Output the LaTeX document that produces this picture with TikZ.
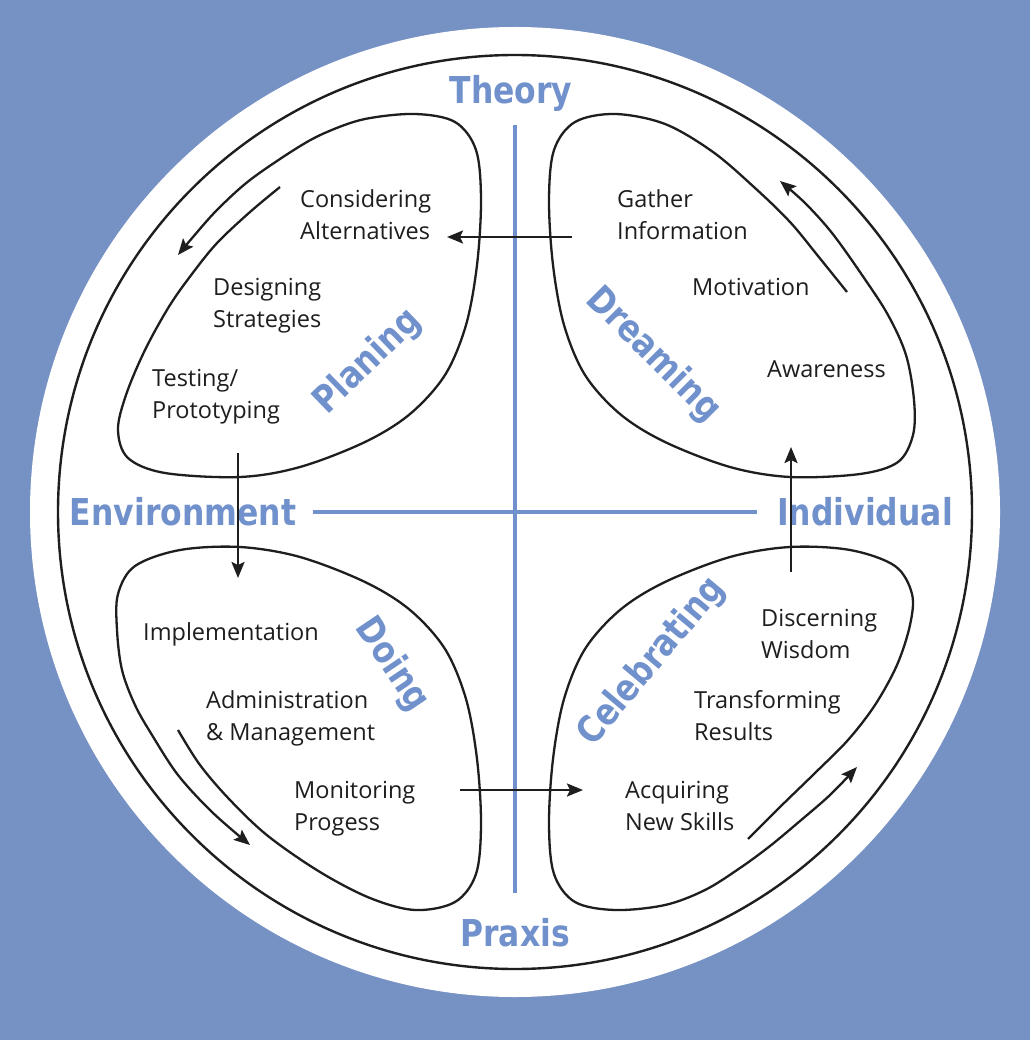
\documentclass[tikz,border=0pt]{standalone}
\usepackage{fontspec}
\setmainfont{Open Sans}
\newfontfamily\lblfont[FakeStretch=0.85]{DejaVu Sans}
\usetikzlibrary{arrows.meta}
\definecolor{bgblue}{RGB}{118,145,196}
\definecolor{lblblue}{RGB}{113,145,204}
\definecolor{ink}{RGB}{30,30,30}
\begin{document}
\begin{tikzpicture}[x=1pt,y=-1pt,
  lobe/.style={draw=ink, line width=2.3pt, -{Stealth[length=16pt,width=13pt,inset=3pt]}},
  conn/.style={draw=ink, line width=2.2pt, -{Stealth[length=16pt,width=13pt,inset=3pt]}},
  axisline/.style={draw=lblblue, line width=4pt},
  txt/.style={font=\fontsize{23.5}{32}\selectfont, align=left, anchor=base west, inner sep=0pt, text=ink},
  big/.style={font=\lblfont\bfseries\fontsize{37}{40}\selectfont, text=lblblue, inner sep=0pt},
]
\useasboundingbox (0,0) rectangle (1030,1040);
\fill[bgblue] (0,0) rectangle (1030,1040);
\fill[white] (515,512) circle[radius=485];
\draw[line width=2.4pt, draw=ink] (515,512) circle[radius=457];

% axes
\coordinate (vt) at (515,125); \coordinate (vb) at (515,893);
\coordinate (hl) at (313,512); \coordinate (hr) at (757,512);
\draw[axisline] (vt) -- (vb);
\draw[axisline] (hl) -- (hr);

% axis labels
\node[big, anchor=base] (theory) at (511,104) {Theory};
\node[big, anchor=base] (env) at (183,525) {Environment};
\node[big, anchor=base] (indiv) at (865,525) {Individual};
\node[big, anchor=base] (praxis) at (515,946) {Praxis};

% lobes (open loops ending in an arrow)
\draw[lobe] plot[smooth, tension=0.55] coordinates {
(280,187) (250,212) (218,242) (195,270) (170,305) (145,350) (126,395)
(118,430) (128,458) (165,473) (240,477) (300,467) (365,442) (410,414)
(445,375) (466,325) (477,265) (481,200) (476,150) (455,122) (415,114)
(365,119) (327,132) (297,148) (250,180) (217,210) (193,237) (178,255)};
\draw[lobe] plot[smooth, tension=0.55] coordinates {
(847,292) (818,256) (790,222) (755,188) (713,152) (665,124) (615,114)
(575,122) (554,150) (549,200) (553,265) (564,325) (585,375) (620,414)
(665,442) (730,467) (790,477) (860,474) (898,462) (913,435) (914,400)
(906,355) (888,315) (862,275) (832,233) (805,203) (780,181)};
\draw[lobe] plot[smooth, tension=0.55] coordinates {
(178,730) (200,765) (230,800) (268,836) (320,872) (370,898) (415,910)
(455,902) (476,874) (481,824) (477,759) (466,699) (445,649) (410,610)
(365,582) (300,557) (240,547) (180,550) (135,566) (118,594) (117,630)
(122,670) (135,705) (152,735) (178,775) (212,812) (250,845)};
\draw[lobe] plot[smooth, tension=0.55] coordinates {
(748,839) (780,807) (815,773) (848,740) (875,705) (897,665) (910,625)
(912,594) (895,566) (850,550) (790,547) (730,557) (665,582) (620,610)
(585,649) (564,699) (553,759) (549,824) (554,874) (575,902) (615,910)
(665,905) (705,890) (740,868) (770,846) (800,821) (830,795) (857,767)};

% quadrant labels
\node[big, rotate=44] (planing) at (368,362) {Planing};
\node[big, rotate=-45] (dreaming) at (653,355) {Dreaming};
\node[big, rotate=-56] (doing) at (392,665) {Doing};
\node[big, rotate=50] (celebrating) at (652,662) {Celebrating};

% texts (base = baseline of the last line)
\node[txt] (ca) at (300,240) {Considering\\Alternatives};
\node[txt] (ds) at (213,327) {Designing\\Strategies};
\node[txt] (tp) at (152,418) {Testing/\\Prototyping};
\node[txt] (gi) at (617,240) {Gather\\Information};
\node[txt] (mo) at (692,295) {Motivation};
\node[txt] (aw) at (767,377) {Awareness};
\node[txt] (im) at (143,640) {Implementation};
\node[txt] (am) at (206,740) {Administration\\\& Management};
\node[txt] (mp) at (294,830) {Monitoring\\Progess};
\node[txt] (dw) at (761,658) {Discerning\\Wisdom};
\node[txt] (tr) at (694,740) {Transforming\\Results};
\node[txt] (an) at (625,830) {Acquiring\\New Skills};

% straight connectors
\coordinate (a1s) at (572,237); \coordinate (a1e) at (447,237);
\coordinate (a2s) at (238,453); \coordinate (a2e) at (238,578);
\coordinate (a3s) at (460,790); \coordinate (a3e) at (583,790);
\coordinate (a4s) at (791,572); \coordinate (a4e) at (791,447);
\draw[conn] (a1s) -- (a1e);
\draw[conn] (a2s) -- (a2e);
\draw[conn] (a3s) -- (a3e);
\draw[conn] (a4s) -- (a4e);
\end{tikzpicture}
\end{document}
